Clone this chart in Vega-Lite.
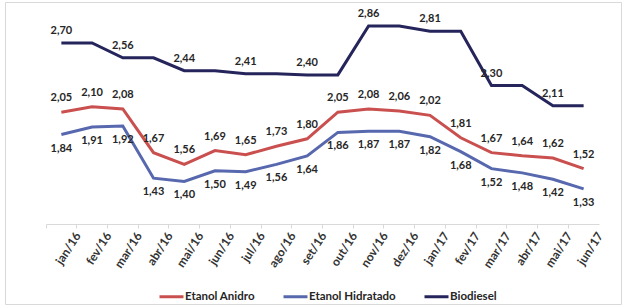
{
  "$schema": "https://vega.github.io/schema/vega-lite/v6.json",
  "width": 616,
  "height": 302,
  "autosize": {"type": "none"},
  "padding": {"left": 5, "top": 2, "right": 6, "bottom": 4},
  "background": "white",
  "config": {
    "view": {"stroke": "#d9d9d9", "strokeWidth": 1},
    "font": "Lato",
    "locale": {
      "number": {"decimal": ",", "thousands": ".", "grouping": [3], "currency": ["R$ ", ""]}
    }
  },
  "data": {
    "values": [
      {"mes": "jan/16", "Etanol Anidro": 2.05, "Etanol Hidratado": 1.84, "Biodiesel": 2.70},
      {"mes": "fev/16", "Etanol Anidro": 2.10, "Etanol Hidratado": 1.91, "Biodiesel": 2.70},
      {"mes": "mar/16", "Etanol Anidro": 2.08, "Etanol Hidratado": 1.92, "Biodiesel": 2.56},
      {"mes": "abr/16", "Etanol Anidro": 1.67, "Etanol Hidratado": 1.43, "Biodiesel": 2.56},
      {"mes": "mai/16", "Etanol Anidro": 1.56, "Etanol Hidratado": 1.40, "Biodiesel": 2.44},
      {"mes": "jun/16", "Etanol Anidro": 1.69, "Etanol Hidratado": 1.50, "Biodiesel": 2.44},
      {"mes": "jul/16", "Etanol Anidro": 1.65, "Etanol Hidratado": 1.49, "Biodiesel": 2.41},
      {"mes": "ago/16", "Etanol Anidro": 1.73, "Etanol Hidratado": 1.56, "Biodiesel": 2.41},
      {"mes": "set/16", "Etanol Anidro": 1.80, "Etanol Hidratado": 1.64, "Biodiesel": 2.40},
      {"mes": "out/16", "Etanol Anidro": 2.05, "Etanol Hidratado": 1.86, "Biodiesel": 2.40},
      {"mes": "nov/16", "Etanol Anidro": 2.08, "Etanol Hidratado": 1.87, "Biodiesel": 2.86},
      {"mes": "dez/16", "Etanol Anidro": 2.06, "Etanol Hidratado": 1.87, "Biodiesel": 2.86},
      {"mes": "jan/17", "Etanol Anidro": 2.02, "Etanol Hidratado": 1.82, "Biodiesel": 2.81},
      {"mes": "fev/17", "Etanol Anidro": 1.81, "Etanol Hidratado": 1.68, "Biodiesel": 2.81},
      {"mes": "mar/17", "Etanol Anidro": 1.67, "Etanol Hidratado": 1.52, "Biodiesel": 2.30},
      {"mes": "abr/17", "Etanol Anidro": 1.64, "Etanol Hidratado": 1.48, "Biodiesel": 2.30},
      {"mes": "mai/17", "Etanol Anidro": 1.62, "Etanol Hidratado": 1.42, "Biodiesel": 2.11},
      {"mes": "jun/17", "Etanol Anidro": 1.52, "Etanol Hidratado": 1.33, "Biodiesel": 2.11}
    ]
  },
  "transform": [
    {"fold": ["Etanol Anidro", "Etanol Hidratado", "Biodiesel"], "as": ["serie", "valor"]}
  ],
  "encoding": {
    "x": {
      "field": "mes",
      "type": "ordinal",
      "sort": null,
      "title": null,
      "scale": {"type": "band", "range": [41, 594], "paddingInner": 0, "paddingOuter": 0},
      "axis": {
        "offset": -80,
        "bandPosition": 0,
        "labelOffset": 16.5,
        "domainColor": "#d9d9d9",
        "tickColor": "#d9d9d9",
        "tickSize": 4,
        "labelAngle": -57,
        "labelAlign": "right",
        "labelBaseline": "middle",
        "labelPadding": 5,
        "labelFont": "Lato",
        "labelFontSize": 12,
        "labelFontWeight": "bold",
        "labelColor": "#333333",
        "grid": false
      }
    },
    "y": {
      "field": "valor",
      "type": "quantitative",
      "scale": {"domain": [1, 3], "range": [222, 9], "nice": false, "zero": false},
      "axis": null
    }
  },
  "layer": [
    {
      "mark": {"type": "line", "strokeWidth": 3},
      "encoding": {
        "color": {
          "field": "serie",
          "type": "nominal",
          "scale": {
            "domain": ["Etanol Anidro", "Etanol Hidratado", "Biodiesel"],
            "range": ["#c9504e", "#5768ae", "#25255c"]
          },
          "legend": {
            "title": null,
            "orient": "none",
            "direction": "horizontal",
            "legendX": 153,
            "legendY": 281,
            "padding": 0,
            "symbolType": "stroke",
            "symbolSize": 576,
            "symbolStrokeWidth": 3,
            "labelOffset": 0,
            "columnPadding": 22,
            "labelFont": "Lato",
            "labelFontSize": 11.5,
            "labelFontWeight": "bold",
            "labelColor": "#262626"
          }
        }
      }
    },
    {
      "transform": [{"filter": "datum.serie === 'Etanol Anidro'"}],
      "mark": {"type": "text", "dy": -14, "fontSize": 11, "fontWeight": "bold", "color": "#262626"},
      "encoding": {"text": {"field": "valor", "type": "quantitative", "format": ".2f"}}
    },
    {
      "transform": [{"filter": "datum.serie === 'Etanol Hidratado'"}],
      "mark": {"type": "text", "dy": 14, "fontSize": 11, "fontWeight": "bold", "color": "#262626"},
      "encoding": {"text": {"field": "valor", "type": "quantitative", "format": ".2f"}}
    },
    {
      "transform": [
        {"filter": "datum.serie === 'Biodiesel'"},
        {"filter": {"field": "mes", "oneOf": ["jan/16", "mar/16", "mai/16", "jul/16", "set/16", "nov/16", "jan/17", "mar/17", "mai/17"]}}
      ],
      "mark": {"type": "text", "dy": -12, "fontSize": 11, "fontWeight": "bold", "color": "#262626"},
      "encoding": {"text": {"field": "valor", "type": "quantitative", "format": ".2f"}}
    }
  ]
}
